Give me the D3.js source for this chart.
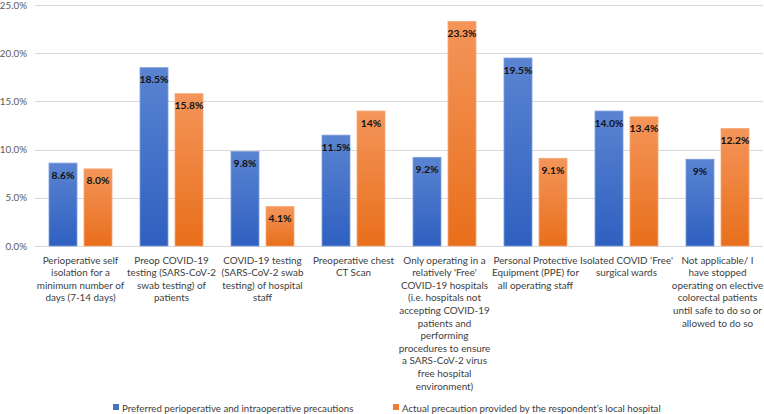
<!DOCTYPE html>
<html><head><meta charset="utf-8">
<script src="https://cdn.jsdelivr.net/npm/d3@7/dist/d3.min.js"></script>
<style>body{margin:0;background:#fff}svg{display:block}</style>
</head><body><svg id="c" width="764" height="414"></svg>
<script>
const categories = [
  ["Perioperative self","isolation for a","minimum number of","days (7-14 days)"],
  ["Preop COVID-19","testing (SARS-CoV-2","swab testing) of","patients"],
  ["COVID-19 testing","(SARS-CoV-2 swab","testing) of hospital","staff"],
  ["Preoperative chest","CT Scan"],
  ["Only operating in a","relatively 'Free'","COVID-19 hospitals","(i.e. hospitals not","accepting COVID-19","patients and","performing","procedures to ensure","a SARS-CoV-2 virus","free hospital","environment)"],
  ["Personal Protective","Equipment (PPE) for","all operating staff"],
  ["Isolated COVID 'Free'","surgical wards"],
  ["Not applicable/ I","have stopped","operating on elective","colorectal patients","until safe to do so or","allowed to do so"]
];
const seriesNames = ["Preferred perioperative and intraoperative precautions","Actual precaution provided by the respondent\u2019s local hospital"];
const preferred = [8.6, 18.5, 9.8, 11.5, 9.2, 19.5, 14.0, 9];
const actual = [8.0, 15.8, 4.1, 14, 23.3, 9.1, 13.4, 12.2];
const preferredLabels = ["8.6%","18.5%","9.8%","11.5%","9.2%","19.5%","14.0%","9%"];
const actualLabels = ["8.0%","15.8%","4.1%","14%","23.3%","9.1%","13.4%","12.2%"];
const yTicks = [0,5,10,15,20,25];

const svg = d3.select("#c");
const font = "Lato, 'Open Sans', sans-serif";
const mLeft = 35, mRight = 763, mTop = 5, mBottom = 246;

const defs = svg.append("defs");
function grad(id, c1, c2){
  const g = defs.append("linearGradient").attr("id",id).attr("x1",0).attr("y1",0).attr("x2",0).attr("y2",1);
  g.append("stop").attr("offset","0%").attr("stop-color",c1);
  g.append("stop").attr("offset","100%").attr("stop-color",c2);
}
grad("gb","#5a84d2","#2f60c0");
grad("go","#f4955a","#e86f1b");
const fills = ["url(#gb)","url(#go)"];
const strokes = ["#7f9fdc","#f5a878"];

const idx = categories.map((d,i)=>i);
const x0 = d3.scaleBand().domain(idx).range([mLeft,mRight]).padding(0);
const bw = x0.bandwidth();
const x1 = d3.scaleBand().domain([0,1]).range([bw*14/91, bw*77/91]).paddingInner(0.2);
const y = d3.scaleLinear().domain([0,25]).range([mBottom,mTop]);

svg.append("g").selectAll("line").data(yTicks).join("line")
  .attr("x1",mLeft).attr("x2",mRight)
  .attr("y1",d=>Math.round(y(d))+0.5).attr("y2",d=>Math.round(y(d))+0.5)
  .attr("stroke","#d9d9d9").attr("stroke-width",1);

const yAxis = d3.axisLeft(y).tickValues(yTicks).tickFormat(d=>d.toFixed(1)+"%").tickSize(0).tickPadding(8);
const ga = svg.append("g").attr("transform",`translate(${mLeft},0)`).call(yAxis);
ga.select(".domain").remove();
ga.selectAll("text").attr("font-family",font).attr("font-size",9.8).attr("fill","#595959");

const series = [preferred, actual];
const labels = [preferredLabels, actualLabels];
series.forEach((vals,s)=>{
  const g = svg.append("g");
  g.selectAll("rect").data(vals).join("rect")
    .attr("x",(d,i)=>x0(i)+x1(s))
    .attr("y",d=>y(d))
    .attr("width",x1.bandwidth())
    .attr("height",d=>mBottom-y(d))
    .attr("fill",fills[s])
    .attr("stroke",strokes[s]).attr("stroke-width",0.8);
  g.selectAll("text").data(vals).join("text")
    .attr("x",(d,i)=>x0(i)+x1(s)+x1.bandwidth()/2)
    .attr("y",d=>y(d)+15.5)
    .attr("text-anchor","middle")
    .attr("font-family",font).attr("font-weight","bold").attr("font-size",10.3)
    .attr("fill","#111")
    .text((d,i)=>labels[s][i]);
});

const gc = svg.append("g");
categories.forEach((lines,i)=>{
  const t = gc.append("text")
    .attr("x",x0(i)+bw/2).attr("y",263.5)
    .attr("text-anchor","middle")
    .attr("font-family",font).attr("font-size",9.9).attr("fill","#404040");
  lines.forEach((ln,k)=>{
    t.append("tspan").attr("x",x0(i)+bw/2).attr("dy",k===0?0:12.6).text(ln);
  });
});

const lg = svg.append("g");
const legX = [113, 393];
seriesNames.forEach((n,s)=>{
  lg.append("rect").attr("x",legX[s]).attr("y",404).attr("width",6).attr("height",6)
    .attr("fill",s===0?"#4472c4":"#ed7d31");
  lg.append("text").attr("x",legX[s]+9).attr("y",411.5)
    .attr("font-family",font).attr("font-size",9.7).attr("fill","#404040").text(n);
});
</script>
</body></html>
